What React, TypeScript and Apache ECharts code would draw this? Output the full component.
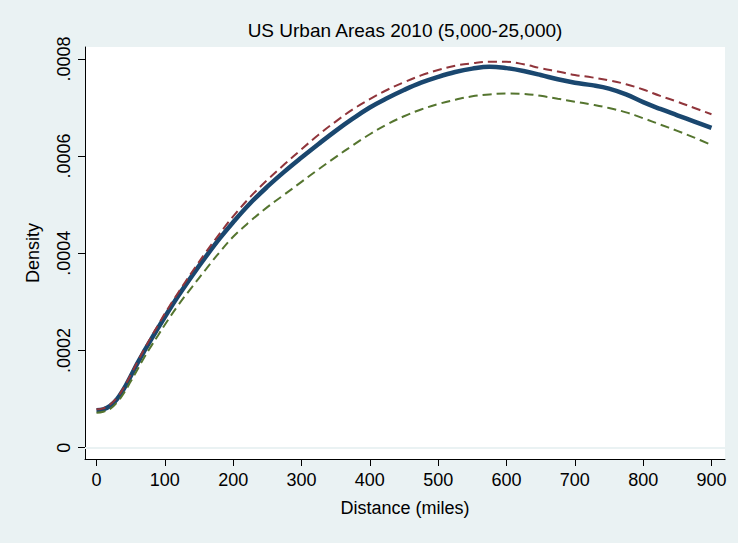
import React, { useEffect, useRef } from "react";
import * as echarts from "echarts";

const titleText = "US Urban Areas 2010 (5,000-25,000)";
const xAxisName = "Distance (miles)";
const yAxisName = "Density";

const distance = [0, 10, 20, 30, 40, 50, 60, 70, 80, 90, 100, 120, 140, 160, 180, 200, 225, 250, 275, 300, 325, 350, 375, 400, 425, 450, 475, 500, 525, 550, 575, 600, 625, 650, 675, 700, 725, 750, 775, 800, 825, 850, 875, 900];

const densityMain = [0.77e-4, 0.79e-4, 0.86e-4, 1.0e-4, 1.21e-4, 1.47e-4, 1.74e-4, 1.99e-4, 2.23e-4, 2.46e-4, 2.69e-4, 3.13e-4, 3.54e-4, 3.93e-4, 4.3e-4, 4.64e-4, 5.03e-4, 5.37e-4, 5.68e-4, 5.97e-4, 6.25e-4, 6.52e-4, 6.77e-4, 7.0e-4, 7.19e-4, 7.36e-4, 7.51e-4, 7.63e-4, 7.73e-4, 7.8e-4, 7.84e-4, 7.81e-4, 7.75e-4, 7.67e-4, 7.58e-4, 7.51e-4, 7.46e-4, 7.39e-4, 7.27e-4, 7.11e-4, 6.97e-4, 6.84e-4, 6.71e-4, 6.58e-4];

const densityUpper = [0.79e-4, 0.81e-4, 0.89e-4, 1.03e-4, 1.24e-4, 1.5e-4, 1.77e-4, 2.03e-4, 2.28e-4, 2.52e-4, 2.76e-4, 3.2e-4, 3.62e-4, 4.02e-4, 4.4e-4, 4.76e-4, 5.16e-4, 5.51e-4, 5.83e-4, 6.14e-4, 6.44e-4, 6.71e-4, 6.96e-4, 7.17e-4, 7.36e-4, 7.52e-4, 7.66e-4, 7.77e-4, 7.86e-4, 7.91e-4, 7.94e-4, 7.94e-4, 7.89e-4, 7.81e-4, 7.74e-4, 7.67e-4, 7.62e-4, 7.56e-4, 7.48e-4, 7.37e-4, 7.24e-4, 7.12e-4, 6.99e-4, 6.86e-4];

const densityLower = [0.72e-4, 0.74e-4, 0.8e-4, 0.93e-4, 1.12e-4, 1.36e-4, 1.61e-4, 1.86e-4, 2.09e-4, 2.31e-4, 2.53e-4, 2.94e-4, 3.31e-4, 3.67e-4, 4.02e-4, 4.34e-4, 4.66e-4, 4.95e-4, 5.21e-4, 5.47e-4, 5.73e-4, 5.98e-4, 6.22e-4, 6.45e-4, 6.65e-4, 6.82e-4, 6.96e-4, 7.07e-4, 7.16e-4, 7.23e-4, 7.27e-4, 7.29e-4, 7.28e-4, 7.24e-4, 7.18e-4, 7.12e-4, 7.06e-4, 6.99e-4, 6.9e-4, 6.78e-4, 6.65e-4, 6.52e-4, 6.38e-4, 6.23e-4];

const xTicks = [0, 100, 200, 300, 400, 500, 600, 700, 800, 900];
const yTicks = [0, 0.0002, 0.0004, 0.0006, 0.0008];
const yTickLabels = ["0", ".0002", ".0004", ".0006", ".0008"];

const FONT = "'Liberation Sans', Arial, Helvetica, sans-serif";

export default function App() {
  const ref = useRef<HTMLDivElement>(null);

  useEffect(() => {
    if (!ref.current) return;
    const chart = echarts.init(ref.current, null, { renderer: "svg" });
    const pairs = (ys: number[]) => distance.map((x, i) => [x, ys[i]]);
    chart.setOption({
      animation: false,
      backgroundColor: "#eaf2f3",
      textStyle: { fontFamily: FONT },
      title: {
        text: titleText,
        left: 405,
        top: 21,
        textAlign: "center",
        padding: 0,
        textStyle: { fontFamily: FONT, fontSize: 19, fontWeight: "normal", color: "#000" },
      },
      grid: {
        left: 85,
        top: 47,
        width: 640,
        height: 412,
        show: true,
        backgroundColor: "#ffffff",
        borderWidth: 0,
        containLabel: false,
      },
      xAxis: {
        type: "value",
        min: -16.83,
        max: 919.8,
        name: xAxisName,
        nameLocation: "middle",
        nameGap: 40,
        nameTextStyle: { fontFamily: FONT, fontSize: 18, color: "#000" },
        axisLine: { show: true, onZero: false, lineStyle: { color: "#000", width: 1 } },
        axisTick: { show: true, length: 7, customValues: xTicks, lineStyle: { color: "#000", width: 1 } },
        axisLabel: {
          show: true,
          customValues: xTicks,
          margin: 12,
          fontFamily: FONT,
          fontSize: 18,
          color: "#000",
          formatter: (v: number) => String(v),
        },
        splitLine: { show: false },
      },
      yAxis: {
        type: "value",
        min: -0.00002325,
        max: 0.0008245,
        name: yAxisName,
        nameLocation: "middle",
        nameGap: 43,
        nameTextStyle: { fontFamily: FONT, fontSize: 18, color: "#000" },
        axisLine: { show: true, onZero: false, lineStyle: { color: "#000", width: 1 } },
        axisTick: { show: true, length: 7, customValues: yTicks, lineStyle: { color: "#000", width: 1 } },
        axisLabel: {
          show: true,
          customValues: yTicks,
          rotate: 90,
          margin: 12,
          fontFamily: FONT,
          fontSize: 18,
          color: "#000",
          formatter: (v: number) => {
            const i = yTicks.findIndex((t) => Math.abs(t - v) < 1e-9);
            return i >= 0 ? yTickLabels[i] : "";
          },
        },
        splitLine: { show: false },
      },
      series: [
        {
          type: "line",
          data: pairs(densityMain),
          showSymbol: false,
          smooth: 0.4,
          lineStyle: { color: "#1a476f", width: 4.5 },
          markLine: {
            silent: true,
            symbol: "none",
            label: { show: false },
            lineStyle: { color: "#eaf2f3", width: 1.5, type: "solid" },
            data: yTicks.map((t) => ({ yAxis: t })),
            z: 1,
          },
          z: 3,
        },
        {
          type: "line",
          data: pairs(densityUpper),
          showSymbol: false,
          smooth: 0.4,
          lineStyle: { color: "#90353b", width: 2, type: [9, 5] },
          z: 4,
        },
        {
          type: "line",
          data: pairs(densityLower),
          showSymbol: false,
          smooth: 0.4,
          lineStyle: { color: "#55752f", width: 2, type: [9, 5] },
          z: 4,
        },
      ],
    });
    return () => chart.dispose();
  }, []);

  return (
    <div
      ref={ref}
      style={{ position: "fixed", left: 0, top: 0, width: 738, height: 543 }}
    />
  );
}
